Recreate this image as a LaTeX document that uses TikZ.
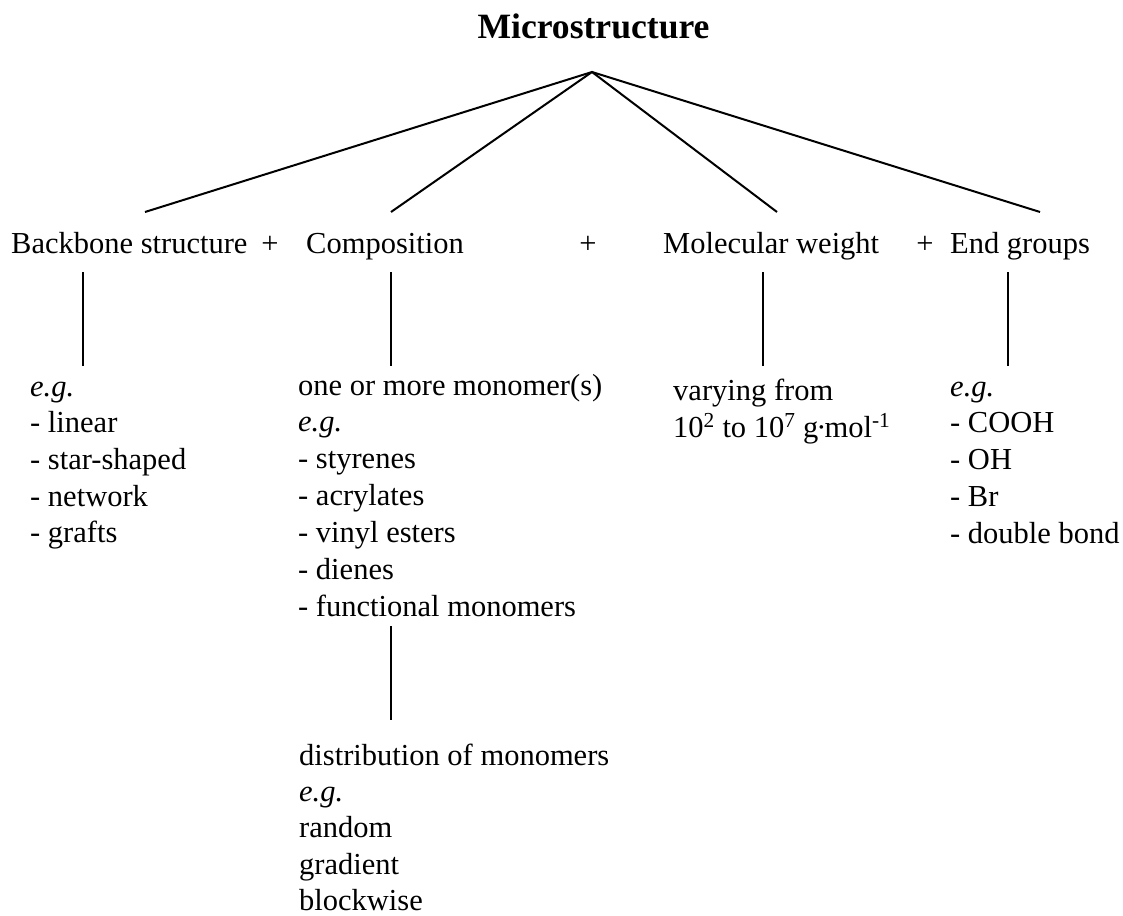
\documentclass[tikz,border=0pt]{standalone}
\usepackage{fontspec}
\setmainfont{Liberation Serif}
\tikzset{
  txt/.style={anchor=base west, inner sep=0pt, font=\fontsize{30.5}{36.8}\selectfont},
  plus/.style={anchor=base, inner sep=0pt, font=\fontsize{30.5}{36.8}\selectfont},
  ttl/.style={anchor=base, inner sep=0pt, font=\fontsize{35.6}{42}\selectfont\bfseries},
  conn/.style={draw=black, line width=2pt}
}
\begin{document}
\begin{tikzpicture}[x=1pt, y=-1pt]
\useasboundingbox (0,0) rectangle (1123,915);
% title
\node[ttl] (title) at (593.5,39) {Microstructure};
\coordinate (apex) at (592,72);
% header row
\node[txt] (bb) at (11,253) {Backbone structure};
\node[plus] (p1) at (270,253) {+};
\node[txt] (comp) at (306,253) {Composition};
\node[plus] (p2) at (588,253) {+};
\node[txt] (mw) at (663,253) {Molecular weight};
\node[plus] (p3) at (925,253) {+};
\node[txt] (eg) at (950,253) {End groups};
% line ends
\coordinate (bbtop) at (145,212);
\coordinate (comptop) at (391,212);
\coordinate (mwtop) at (777,212);
\coordinate (egtop) at (1040,212);
\draw[conn] (bbtop) -- (apex) -- (egtop);
\draw[conn] (comptop) -- (apex) -- (mwtop);
% vertical connectors
\coordinate (bbA) at (83,272);   \coordinate (bbB) at (83,366);
\coordinate (compA) at (391,272); \coordinate (compB) at (391,366);
\coordinate (mwA) at (763,272);  \coordinate (mwB) at (763,366);
\coordinate (egA) at (1008,272); \coordinate (egB) at (1008,366);
\coordinate (distA) at (391,626); \coordinate (distB) at (391,720);
\draw[conn] (bbA) -- (bbB);
\draw[conn] (compA) -- (compB);
\draw[conn] (mwA) -- (mwB);
\draw[conn] (egA) -- (egB);
\draw[conn] (distA) -- (distB);
% backbone list
\foreach [count=\i] \t in {{\itshape e.g.}, - linear, - star-shaped, - network, - grafts}
  \node[txt] (bbl\i) at (30,{396+36.7*(\i-1)}) {\t};
% composition list
\foreach [count=\i] \t in {one or more monomer(s), {\itshape e.g.}, - styrenes, - acrylates, - vinyl esters, - dienes, - functional monomers}
  \node[txt] (cl\i) at (298,{395+36.9*(\i-1)}) {\t};
% distribution list
\foreach [count=\i] \t in {distribution of monomers, {\itshape e.g.}, random, gradient, blockwise}
  \node[txt] (dl\i) at (299,{765+36.4*(\i-1)}) {\t};
% molecular weight
\node[txt] (mw1) at (673,400) {varying from};
\node[txt] (mw2) at (673,437) {10\textsuperscript{2} to 10\textsuperscript{7} g\kern-2pt·\kern-2pt mol\textsuperscript{-1}};
% end groups list
\foreach [count=\i] \t in {{\itshape e.g.}, - COOH, - OH, - Br, - double bond}
  \node[txt] (egl\i) at (950,{396+36.8*(\i-1)}) {\t};
\end{tikzpicture}
\end{document}
